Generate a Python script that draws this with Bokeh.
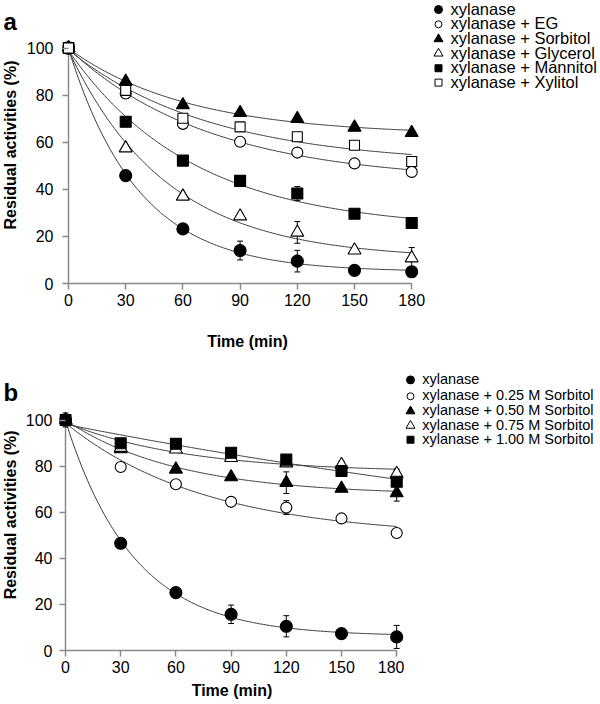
import numpy as np
from math import pi
from bokeh.plotting import figure
from bokeh.models import Range1d, FixedTicker
from bokeh.core.properties import value
from bokeh.layouts import column, row
from bokeh.embed import file_html
from bokeh.resources import INLINE

# ---------------- data ----------------
time_min = [0, 30, 60, 90, 120, 150, 180]
x_ticks = [0, 30, 60, 90, 120, 150, 180]
y_ticks = [0, 20, 40, 60, 80, 100]

# Panel a
a_names = ["xylanase", "xylanase + EG", "xylanase + Sorbitol",
           "xylanase + Glycerol", "xylanase + Mannitol", "xylanase + Xylitol"]
a_xylanase = [100, 45.8, 23.2, 14.0, 9.5, 5.6, 5.0]
a_xylanase_err = [2.5, 1.0, 1.0, 4.0, 4.6, 1.5, 1.0]
a_eg = [100, 80.7, 67.8, 60.2, 55.6, 51.0, 47.4]
a_eg_err = [2.0, 2.0, 1.0, 1.0, 1.0, 1.0, 1.0]
a_sorbitol = [100, 85.8, 75.8, 72.5, 70.0, 66.3, 64.0]
a_sorbitol_err = [2.0, 1.0, 1.0, 1.0, 1.0, 1.0, 1.0]
a_glycerol = [100, 57.5, 37.0, 28.6, 21.7, 14.1, 10.8]
a_glycerol_err = [2.0, 1.0, 1.0, 1.0, 4.6, 1.0, 4.5]
a_mannitol = [100, 68.7, 52.2, 43.6, 38.2, 29.6, 25.7]
a_mannitol_err = [2.0, 1.0, 1.0, 1.5, 3.0, 1.0, 1.0]
a_xylitol = [100, 82.0, 70.2, 66.5, 62.3, 58.7, 51.8]
a_xylitol_err = [2.0, 1.0, 1.0, 1.0, 1.8, 1.0, 1.0]

# Panel b
b_names = ["xylanase", "xylanase + 0.25 M Sorbitol", "xylanase + 0.50 M Sorbitol",
           "xylanase + 0.75 M Sorbitol", "xylanase + 1.00 M Sorbitol"]
b_xylanase = [100, 46.5, 25.1, 15.7, 10.5, 7.3, 5.9]
b_xylanase_err = [3.0, 1.0, 1.0, 4.0, 4.6, 1.8, 5.0]
b_s025 = [100, 79.6, 72.1, 64.5, 62.0, 57.3, 51.0]
b_s025_err = [2.0, 1.0, 1.0, 2.0, 3.0, 1.0, 1.0]
b_s050 = [100, 87.4, 78.6, 75.3, 72.8, 70.3, 68.3]
b_s050_err = [2.0, 1.0, 1.0, 1.0, 4.7, 1.0, 3.5]
b_s075 = [100, 88.0, 87.3, 83.6, 81.3, 80.6, 76.7]
b_s075_err = [2.0, 1.0, 1.0, 1.0, 1.0, 1.5, 2.0]
b_s100 = [100, 89.9, 89.7, 85.8, 82.8, 77.9, 73.2]
b_s100_err = [2.0, 1.0, 1.0, 1.0, 1.0, 1.0, 1.0]

# ---------------- styling helpers ----------------
FONT = "Liberation Sans"
AXIS_GRAY = "#8a8a8a"
TICK = 6

# (marker, filled, size)
styles = [("circle", True, 12), ("circle", False, 11), ("triangle", True, 13),
          ("triangle", False, 13), ("square", True, 11), ("square", False, 10)]
b_styles = styles[:5]


def plain_fig(width, height):
    f = figure(width=width, height=height, x_range=Range1d(0, width), y_range=Range1d(height, 0),
               output_backend="svg", toolbar_location=None,
               x_axis_location=None, y_axis_location=None,
               min_border_left=0, min_border_right=0, min_border_top=0, min_border_bottom=0)
    f.outline_line_color = None
    f.grid.visible = False
    return f


def main_fig(width, height, left_border, bottom_border, x_scale, y0_fig, y_scale,
             ylab_standoff, xtick_standoff, xlab_standoff):
    fw = width - left_border
    fh = height - bottom_border
    xs = -TICK / x_scale
    xe = xs + fw / x_scale
    ye = y0_fig / y_scale
    ys = -(fh - y0_fig) / y_scale
    p = figure(width=width, height=height, x_range=Range1d(xs, xe), y_range=Range1d(ys, ye),
               output_backend="svg", toolbar_location=None,
               min_border_left=left_border, min_border_right=0, min_border_top=0,
               min_border_bottom=bottom_border)
    p.outline_line_color = None
    p.grid.visible = False
    for ax, ticks in ((p.xaxis, x_ticks), (p.yaxis, y_ticks)):
        ax.ticker = FixedTicker(ticks=ticks)
        ax.bounds = (ticks[0], ticks[-1])
        ax.axis_line_color = None
        ax.major_tick_line_color = AXIS_GRAY
        ax.major_tick_line_width = 1.5
        ax.major_tick_out = 0
        ax.major_tick_in = TICK
        ax.minor_tick_line_color = None
        ax.major_label_text_font = FONT
        ax.major_label_text_font_size = "16px"
        ax.major_label_text_color = "black"
    p.yaxis.major_label_standoff = ylab_standoff
    p.xaxis.major_label_standoff = xtick_standoff
    p.xaxis.axis_label = "Time (min)"
    p.xaxis.axis_label_text_font = FONT
    p.xaxis.axis_label_text_font_size = "16px"
    p.xaxis.axis_label_text_font_style = "bold"
    p.xaxis.axis_label_text_color = "black"
    p.xaxis.axis_label_standoff = xlab_standoff
    # axis lines drawn at data zero
    p.segment([x_ticks[0], x_ticks[0]], [y_ticks[0], y_ticks[0]],
              [x_ticks[0], x_ticks[-1]], [y_ticks[-1], y_ticks[0]],
              line_color=AXIS_GRAY, line_width=1.5)
    return p, x_scale


def fit_curve(t, y):
    t = np.asarray(t, float)
    y = np.asarray(y, float)
    best = None
    for k in np.linspace(0.002, 0.15, 1500):
        A = np.column_stack([np.ones_like(t), np.exp(-k * t)])
        coef, *_ = np.linalg.lstsq(A, y, rcond=None)
        r = float(np.sum((A @ coef - y) ** 2))
        if best is None or r < best[0]:
            best = (r, k, coef)
    _, k, coef = best
    tt = np.linspace(0, 180, 240)
    return tt, coef[0] + coef[1] * np.exp(-k * tt)


def draw_series(p, x_scale, t, y, e):
    t = np.asarray(t, float)
    y = np.asarray(y, float)
    e = np.asarray(e, float)
    tt, yy = fit_curve(t, y)
    p.line(tt, yy, line_color="#3a3a3a", line_width=1)
    hw = 3.0 / x_scale
    p.segment(t, y - e, t, y + e, line_color="black", line_width=1)
    p.segment(t - hw, y + e, t + hw, y + e, line_color="black", line_width=1)
    p.segment(t - hw, y - e, t + hw, y - e, line_color="black", line_width=1)


def draw_markers(p, t, y, style):
    m, filled, s = style
    p.scatter(t, y, marker=m, size=s, fill_color="black" if filled else "white",
              line_color="black", line_width=1.1)


def legend_fig(width, height, names, stys, mx, tx, rows, fsize):
    f = plain_fig(width, height)
    for name, sty, ry in zip(names, stys, rows):
        m, filled, s = sty
        f.scatter([mx], [ry + 1], marker=m, size=max(s - 4, 7),
                  fill_color="black" if filled else "white", line_color="black", line_width=1)
        f.text([tx], [ry], text=[name], text_font=value(FONT), text_font_size=fsize,
               text_baseline="middle", text_align="left", text_color="black")
    return f


def strip_fig(width, height, letter, letter_base, ylab_y):
    f = plain_fig(width, height)
    f.text([3], [letter_base], text=[letter], text_font=value(FONT), text_font_size="24px",
           text_font_style="bold", text_baseline="alphabetic", text_align="left",
           text_color="black")
    f.text([width / 2.0], [ylab_y], text=["Residual activities (%)"], text_font=value(FONT),
           text_font_size="16px", text_font_style="bold", angle=pi / 2,
           text_baseline="middle", text_align="center", text_color="black")
    return f


# ---------------- panel a ----------------
HA = 352
sa = strip_fig(20, HA, "a", 25, 176)
pa, sxa = main_fig(412, HA, 42, 62, 57.2 / 30, 284.0, 2.363, 9, 4, 24)
a_series = [(a_xylanase, a_xylanase_err), (a_eg, a_eg_err), (a_sorbitol, a_sorbitol_err),
            (a_glycerol, a_glycerol_err), (a_mannitol, a_mannitol_err), (a_xylitol, a_xylitol_err)]
for y, e in a_series:
    draw_series(pa, sxa, time_min, y, e)
for (y, e), sty in zip(a_series, styles):
    draw_markers(pa, time_min, y, sty)
la = legend_fig(168, HA, a_names, styles, 6, 18, [10, 28, 46, 63.5, 81.5, 99], "16.5px")

# ---------------- panel b ----------------
HB = 352
sb = strip_fig(20, HB, "b", 46, 188)
pb, sxb = main_fig(384, HB, 39, 48, 55.2 / 30, 298.0, 2.305, 7, 4, 6)
b_series = [(b_xylanase, b_xylanase_err), (b_s025, b_s025_err), (b_s050, b_s050_err),
            (b_s075, b_s075_err), (b_s100, b_s100_err)]
for y, e in b_series:
    draw_series(pb, sxb, time_min, y, e)
for (y, e), sty in zip(b_series, b_styles):
    draw_markers(pb, time_min, y, sty)
lb = legend_fig(196, HB, b_names, b_styles, 6, 17.7, [30.7, 49.7, 67, 83.7, 100], "14.5px")

layout = column(row(sa, pa, la, spacing=0), row(sb, pb, lb, spacing=0), spacing=0)
open("out.html", "w").write(file_html(layout, INLINE))
